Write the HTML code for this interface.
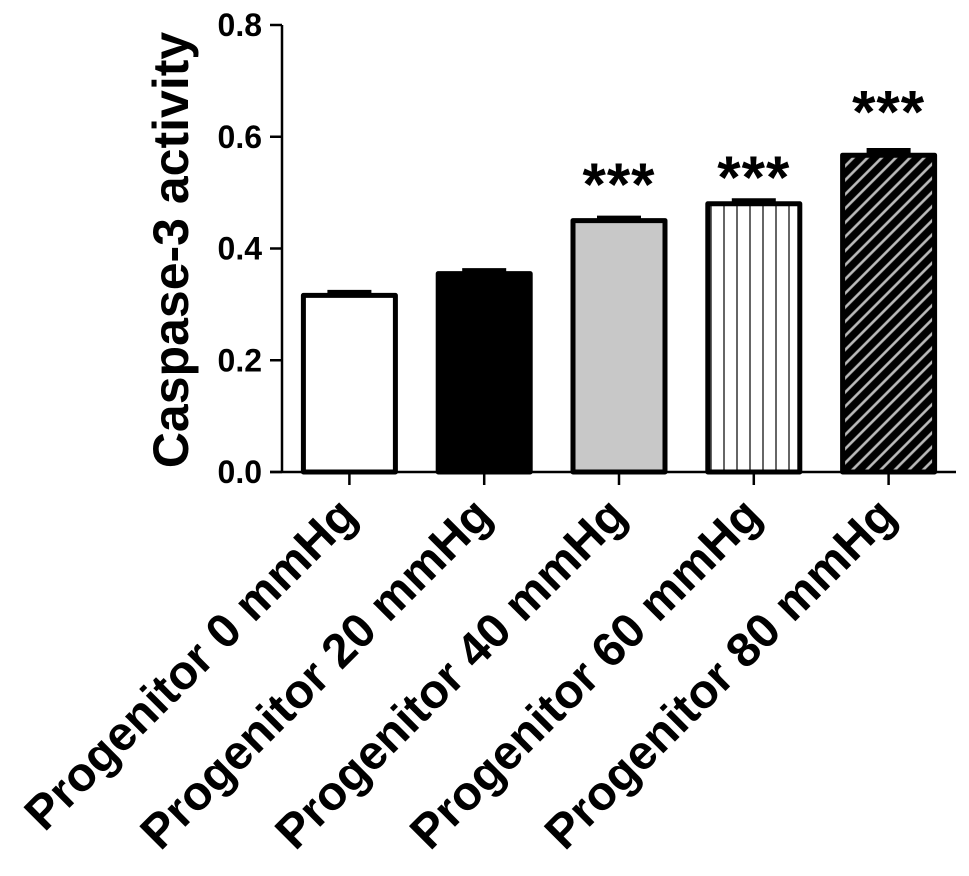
<!DOCTYPE html>
<html><head><meta charset="utf-8"><style>
html,body{margin:0;padding:0;background:#fff;}
svg{display:block;font-family:"Liberation Sans",Arial,sans-serif;}
</style></head><body>
<svg id="chart" width="969" height="876" viewBox="0 0 969 876" xmlns="http://www.w3.org/2000/svg">
<defs>
<pattern id="vlines" patternUnits="userSpaceOnUse" width="13" height="10" x="3">
<rect width="13" height="10" fill="#fff"/><line x1="6" y1="0" x2="6" y2="10" stroke="#333" stroke-width="1.5"/>
</pattern>
<pattern id="hatch" patternUnits="userSpaceOnUse" width="10" height="10" patternTransform="rotate(-45)">
<rect width="10" height="10" fill="#000"/><line x1="0" y1="5" x2="10" y2="5" stroke="#bbb" stroke-width="2.6"/>
</pattern>
</defs>
<g id="plot"></g>
</svg>
<script>
const categories = ["Progenitor 0 mmHg","Progenitor 20 mmHg","Progenitor 40 mmHg","Progenitor 60 mmHg","Progenitor 80 mmHg"];
const values = [0.316, 0.355, 0.45, 0.48, 0.567];
const errors = [0.009, 0.009, 0.008, 0.009, 0.012];
const stars = ["", "", "***", "***", "***"];
const starGap = [0, 0, 36, 26, 41];
const yTicks = [0.0, 0.2, 0.4, 0.6, 0.8];
const yTickLabels = ["0.0","0.2","0.4","0.6","0.8"];
const fills = ["#fff","#000","#c8c8c8","url(#vlines)","url(#hatch)"];

const NS="http://www.w3.org/2000/svg";
const g=document.getElementById('plot');
const X0=282, X1=956, Y0=472, Y1=25, YMAX=0.8;
const step=(X1-X0)/categories.length, bw=92;
function y(v){return Y0-(v/YMAX)*(Y0-Y1);}
function xc(i){return X0+(i+0.5)*step;}
function mk(tag,attrs,parent){const e=document.createElementNS(NS,tag);for(const k in attrs)e.setAttribute(k,attrs[k]);(parent||g).appendChild(e);return e;}

categories.forEach((c,i)=>{
  const cx=xc(i), top=y(values[i]), et=y(values[i]+errors[i]);
  const eb=mk('line',{x1:cx,x2:cx,y1:top,y2:et,stroke:'#000','stroke-width':4});
  
  
  const cap=mk('line',{x1:cx-22,x2:cx+22,y1:et+2,y2:et+2,stroke:'#000','stroke-width':5});
  
  
  const r=mk('rect',{x:cx-bw/2,y:top,width:bw,height:Y0-top,fill:fills[i],stroke:'#000','stroke-width':5,'stroke-linejoin':'round'});
  
  
  const t=mk('line',{x1:cx,x2:cx,y1:Y0,y2:Y0+13,stroke:'#000','stroke-width':2.5});
  
  
  const lx=cx+10, ly=Y0+46;
  const lbl=mk('text',{x:lx,y:ly,'text-anchor':'end','font-size':48,'font-weight':'bold',transform:`rotate(-45 ${lx} ${ly})`});
  lbl.textContent=c;
  
  
  if(stars[i]){
    const s=mk('text',{x:cx,y:et-starGap[i]+25,'text-anchor':'middle','font-size':60,'font-weight':'bold','letter-spacing':1});
    s.textContent=stars[i];
    
    
  }
});
const xa=mk('line',{x1:X0-12,x2:X1,y1:Y0,y2:Y0,stroke:'#000','stroke-width':2.5});


const ya=mk('line',{x1:X0,x2:X0,y1:Y1,y2:Y0,stroke:'#000','stroke-width':2.5});


yTicks.forEach((v,i)=>{
  const t=mk('line',{x1:X0-12,x2:X0,y1:y(v),y2:y(v),stroke:'#000','stroke-width':2.5});
  
  
  const l=mk('text',{x:X0-20,y:y(v)+11,'text-anchor':'end','font-size':32,'font-weight':'bold'});
  l.textContent=yTickLabels[i];
  
  
});
const yt=mk('text',{x:0,y:0,'text-anchor':'middle','font-size':50,'font-weight':'bold',transform:'translate(188 250) rotate(-90)'});
yt.textContent='Caspase-3 activity';


</script>
</body></html>
